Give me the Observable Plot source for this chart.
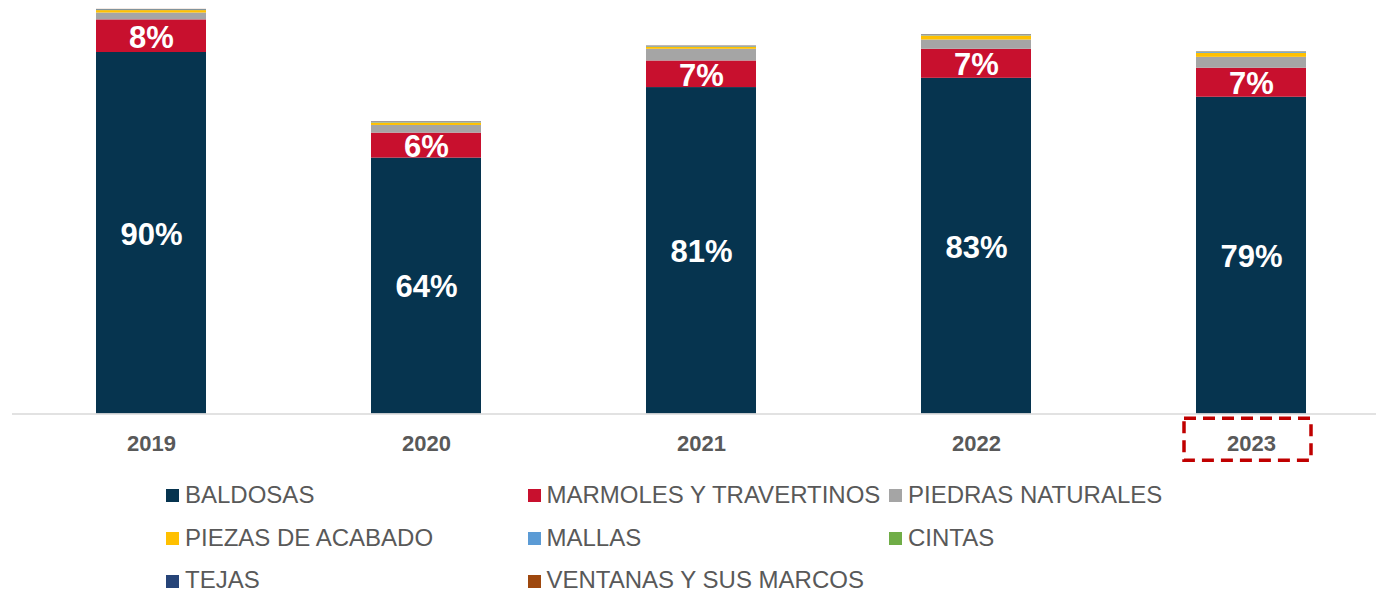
<!DOCTYPE html>
<html>
<head>
<meta charset="utf-8">
<script src="https://cdn.jsdelivr.net/npm/d3@7"></script>
<script src="https://cdn.jsdelivr.net/npm/@observablehq/plot@0.6"></script>
<style>
  html, body { margin: 0; padding: 0; background: #fff; }
  body { width: 1376px; height: 592px; overflow: hidden; font-family: "Liberation Sans", Arial, sans-serif; }
  #legend { display: grid; grid-template-columns: 361.5px 361.5px 361.5px; padding-left: 166px; padding-top: 3.5px; }
  .item { display: flex; align-items: center; height: 42.7px; font-size: 24px; color: #595959; white-space: nowrap; }
  .sw { width: 13px; height: 13px; margin-right: 6px; flex: none; position: relative; top: 1px; }
</style>
</head>
<body>
<div id="chart"></div>
<div id="legend"></div>
<script>
const years = ["2019", "2020", "2021", "2022", "2023"];
const series = ["BALDOSAS", "MARMOLES Y TRAVERTINOS", "PIEDRAS NATURALES", "PIEZAS DE ACABADO", "MALLAS", "CINTAS", "TEJAS", "VENTANAS Y SUS MARCOS"];
const colors = ["#06344F", "#C8102E", "#A5A5A5", "#FFC000", "#5B9BD5", "#70AD47", "#264478", "#9E480E"];
const baldosas = [89.7, 63.5, 81.0, 83.3, 78.6];
const marmoles = [8.1, 6.2, 6.6, 7.2, 7.2];
const piedras = [1.7, 1.9, 2.9, 2.3, 2.7];
const piezas = [0.6, 0.6, 0.5, 1.0, 1.0];
const mallas = [0.1, 0.1, 0.1, 0.1, 0.2];
const cintas = [0.05, 0.05, 0.05, 0.05, 0.05];
const tejas = [0.1, 0.1, 0.1, 0.1, 0.05];
const ventanas = [0.05, 0.05, 0.05, 0.05, 0.05];
const labeled = ["BALDOSAS", "MARMOLES Y TRAVERTINOS"];
const highlightYear = "2023";

const valuesBySeries = [baldosas, marmoles, piedras, piezas, mallas, cintas, tejas, ventanas];
const data = [];
years.forEach((yr, i) => {
  series.forEach((s, j) => data.push({year: yr, series: s, value: valuesBySeries[j][i]}));
});

const chart = Plot.plot({
  width: 1376,
  height: 470,
  marginLeft: 12,
  marginRight: 0,
  marginTop: 10.5,
  marginBottom: 56.5,
  style: {fontFamily: "'Liberation Sans', Arial, sans-serif", background: "white", overflow: "visible"},
  x: {domain: years, range: [12.35, 1389.85], paddingInner: 0.6, paddingOuter: 0.3, label: null},
  y: {domain: [0, 100], axis: null},
  color: {domain: series, range: colors},
  marks: [
    Plot.barY(data, Plot.stackY({x: "year", y: "value", z: "series", fill: "series", order: series})),
    Plot.text(data, Plot.stackY({
      x: "year", y: "value", z: "series", order: series,
      text: d => labeled.includes(d.series) ? Math.round(d.value) + "%" : null,
      fill: "white", fontSize: 31, fontWeight: "bold", dy: 1.5
    })),
    Plot.ruleY([0], {stroke: "#d9d9d9", strokeWidth: 1.5}),
    Plot.axisX({tickSize: 0, tickPadding: 21, fontSize: 22, fontWeight: "bold", fill: "#595959", label: null}),
    Plot.barY([{year: highlightYear}], {
      x: "year", y1: -1.2, y2: -11.6, insetLeft: -12, insetRight: -5,
      fill: "none", stroke: "#C00000", strokeWidth: 3.5, strokeDasharray: "12,7"
    })
  ]
});
document.getElementById("chart").appendChild(chart);

const legend = document.getElementById("legend");
series.forEach((s, i) => {
  const item = document.createElement("div");
  item.className = "item";
  const sw = document.createElement("span");
  sw.className = "sw";
  sw.style.background = colors[i];
  const t = document.createElement("span");
  t.textContent = s;
  item.appendChild(sw);
  item.appendChild(t);
  legend.appendChild(item);
});
</script>
</body>
</html>
